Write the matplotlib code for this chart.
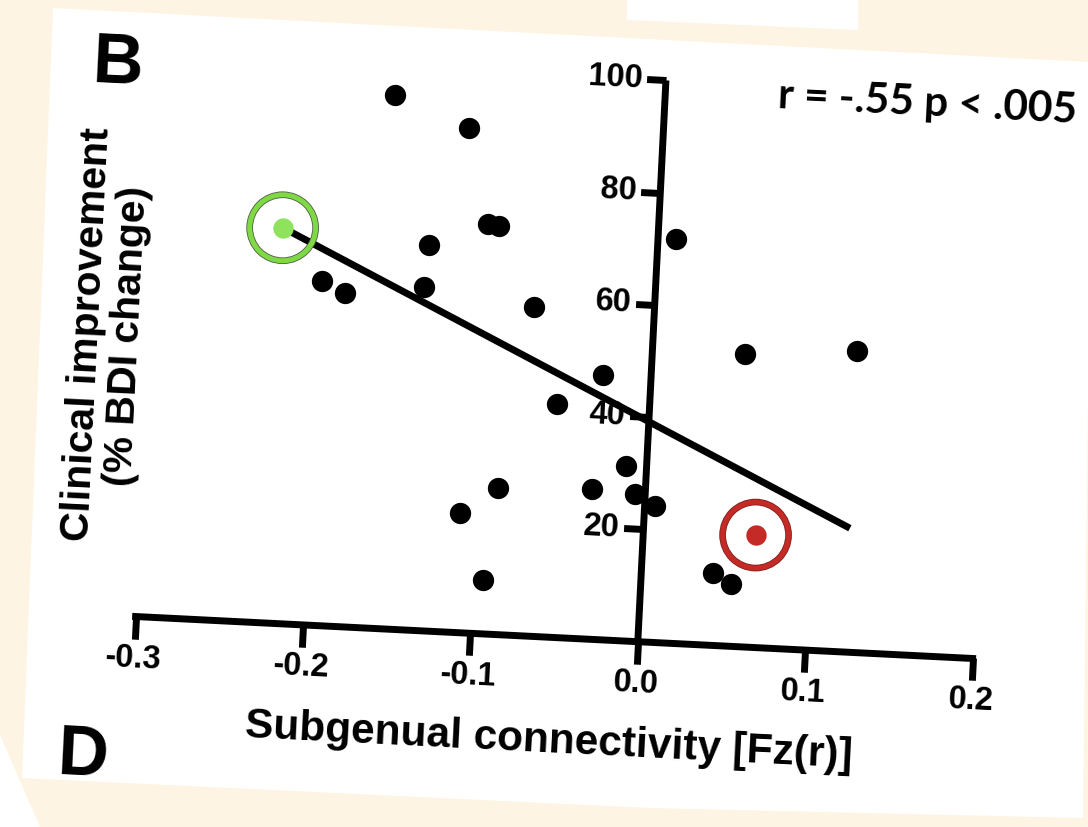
import numpy as np
import matplotlib
matplotlib.use("Agg")
import matplotlib.pyplot as plt
from matplotlib.patches import Polygon
from matplotlib.transforms import Affine2D
from mpl_toolkits.axisartist import floating_axes
from mpl_toolkits.axisartist.grid_finder import FixedLocator, DictFormatter

# subgenual connectivity vs. clinical improvement, one point per patient
connectivity = [-0.161, -0.116, -0.224, -0.199, -0.185, -0.136, -0.138, -0.102, -0.095, -0.072,
                0.011, -0.029, -0.055, 0.055, 0.122, -0.012, -0.032, -0.006, 0.006, -0.088,
                -0.110, -0.094, 0.067, 0.043, 0.054]
improvement = [95.0, 89.8, 70.4, 61.3, 59.4, 68.6, 61.1, 72.9, 72.6, 58.6,
               71.9, 47.1, 41.5, 52.1, 53.6, 31.1, 26.7, 26.2, 24.3, 26.1,
               21.3, 9.6, 20.0, 12.9, 11.1]
best_idx = 2    # circled in green
worst_idx = 22  # circled in red

# least-squares line
fit_intercept = 39.2
fit_slope = -139.4
fit_x = [-0.224, 0.123]

x_ticks = [-0.3, -0.2, -0.1, 0.0, 0.1, 0.2]
x_tick_labels = ["-0.3", "-0.2", "-0.1", "0.0", "0.1", "0.2"]
y_ticks = [20, 40, 60, 80, 100]
y_tick_labels = ["20", "40", "60", "80", "100"]

xlabel = "Subgenual connectivity [Fz(r)]"
ylabel = "Clinical improvement\n(% BDI change)"
stats = "r = -.55 p < .005"

W, H = 1088, 827
TILT = 2.87                 # the printed page sits slightly rotated
SX, SY = 1676.0, 5.62       # pixels per data unit
X0, Y0 = 637.8, 641.7       # page pixel of the origin
CREAM = "#fdf4e3"
GREEN = "#7fd944"
GREEN_FILL = "#8fe35c"
RED = "#c42a26"
FONT = "Liberation Sans"

# white sheets lying on the desk (page pixel coordinates)
sheets = [
    [(53, 8), (1088, 62), (1088, 400), (1083, 818), (650, 808), (22, 778)],
    [(627, 0), (858, 0), (858, 30), (627, 20)],
    [(0, 735), (40, 827), (0, 827)],
]

fig = plt.figure(figsize=(W / 100, H / 100), dpi=100)
fig.patch.set_facecolor(CREAM)

bg = fig.add_axes([0, 0, 1, 1])
bg.set_xlim(0, W)
bg.set_ylim(H, 0)
bg.axis("off")
for pts in sheets:
    bg.add_patch(Polygon(pts, closed=True, fc="white", ec="none"))

to_page = Affine2D().scale(SX, SY).rotate_deg(-TILT).translate(X0, H - Y0)
helper = floating_axes.GridHelperCurveLinear(
    to_page, extremes=(x_ticks[0], x_ticks[-1], 0, y_ticks[-1]),
    grid_locator1=FixedLocator(x_ticks), grid_locator2=FixedLocator(y_ticks),
    tick_formatter1=DictFormatter(dict(zip(x_ticks, x_tick_labels))),
    tick_formatter2=DictFormatter(dict(zip(y_ticks, y_tick_labels))))
ax = fig.add_axes([0, 0, 1, 1], axes_class=floating_axes.FloatingAxes, grid_helper=helper)
ax.patch.set_visible(False)

for side in ("left", "right", "top"):
    ax.axis[side].set_visible(False)
xax = ax.axis["bottom"]
yax = ax.axis["yzero"] = ax.new_floating_axis(0, 0.0)
yax.set_axis_direction("left")
yax.line.set_clip_path(ax.patch)

for axis in (xax, yax):
    axis.line.set_linewidth(5)
    axis.line.set_capstyle("projecting")
    axis.major_ticks.set_tick_out(True)
    axis.major_ticks.set_markeredgewidth(5)
    axis.major_ticklabels.set_fontsize(23.5)
    axis.major_ticklabels.set_fontweight("bold")
    axis.major_ticklabels.set_fontfamily(FONT)
xax.major_ticks.set_ticksize(16)
yax.major_ticks.set_ticksize(14)
xax.major_ticklabels.set_pad(4)
yax.major_ticklabels.set_pad(3)

xax.label.set_text(xlabel)
xax.label.set_fontsize(30.5)
xax.label.set_fontweight("bold")
xax.label.set_fontfamily(FONT)
xax.label.set_pad(24)

page = ax.get_aux_axes(to_page)
fx = np.array(fit_x)
page.plot(fx, fit_intercept + fit_slope * fx, color="black", lw=5,
          solid_capstyle="butt", zorder=2)

cx = np.array(connectivity)
cy = np.array(improvement)
plain = np.ones(len(cx), dtype=bool)
plain[[best_idx, worst_idx]] = False
page.scatter(cx[plain], cy[plain], s=235, c="black", linewidths=0, zorder=3)

# highlighted responders: filled dot inside an open ring
for idx, ring, edge, fill in ((best_idx, GREEN, "#4f5c44", GREEN_FILL),
                              (worst_idx, RED, "#7e211d", RED)):
    page.scatter(cx[idx], cy[idx], s=215, c=fill, linewidths=0, zorder=4)
    page.scatter(cx[idx], cy[idx], s=2256, facecolors="none", edgecolors=edge,
                 linewidths=4.8, zorder=4)
    page.scatter(cx[idx], cy[idx], s=2256, facecolors="none", edgecolors=ring,
                 linewidths=3.6, zorder=5)

ax.set_xlim(0, W)
ax.set_ylim(0, H)

bg.text(117, 83, "B", fontsize=50.5, fontweight="bold", family=FONT, rotation=-TILT,
        rotation_mode="anchor", ha="center", va="baseline")
bg.text(82, 775, "D", fontsize=50.5, fontweight="bold", family=FONT, rotation=-TILT,
        rotation_mode="anchor", ha="center", va="baseline")
bg.text(107.5, 335, ylabel, fontsize=29.5, fontweight="bold", family=FONT,
        rotation=90 - TILT, rotation_mode="anchor", ha="center", va="center",
        multialignment="center", linespacing=1.1)
bg.text(777, 108, stats, fontsize=30.5, fontweight="bold", family="Lato",
        rotation=-TILT, rotation_mode="anchor", ha="left", va="baseline")

fig.savefig("out.png", dpi=100, facecolor=fig.get_facecolor())
